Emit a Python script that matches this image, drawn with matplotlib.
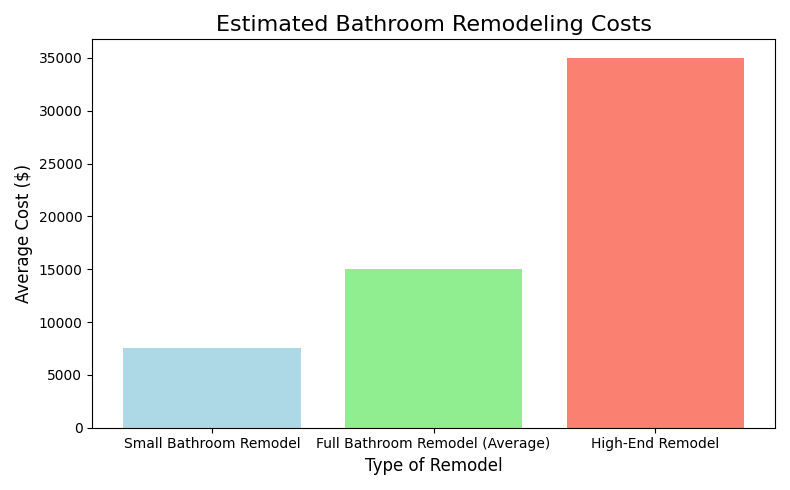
import matplotlib
matplotlib.use("Agg")
import matplotlib.pyplot as plt

categories = ["Small Bathroom Remodel", "Full Bathroom Remodel (Average)", "High-End Remodel"]
costs = [7500, 15000, 35000]
colors = ["lightblue", "lightgreen", "salmon"]

fig, ax = plt.subplots(figsize=(7.9, 4.9), dpi=100)
ax.bar(categories, costs, color=colors)
ax.set_title("Estimated Bathroom Remodeling Costs", fontsize=16)
ax.set_xlabel("Type of Remodel", fontsize=12)
ax.set_ylabel("Average Cost ($)", fontsize=12)
fig.tight_layout()
fig.savefig("out.png")
